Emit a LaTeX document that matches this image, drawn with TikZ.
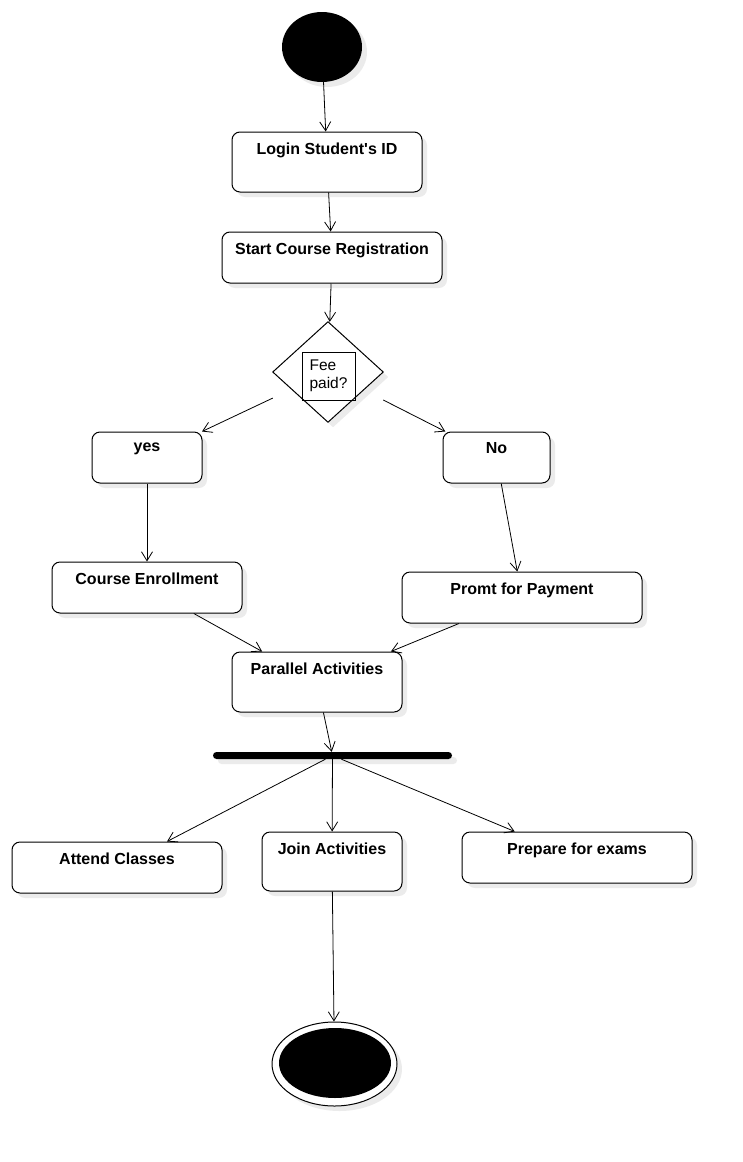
\documentclass[tikz,border=0pt]{standalone}
\usepackage{fontspec}
\setmainfont{Liberation Sans}
\usetikzlibrary{shapes.geometric,arrows.meta,positioning,shadows}

\begin{document}
\begin{tikzpicture}[x=1pt, y=-1pt,
    soft shadow/.style={drop shadow={shadow xshift=5pt, shadow yshift=-5pt, fill=black!8, opacity=1}},
    act box/.style={draw, line width=1pt, rounded corners=8pt, fill=white, soft shadow, minimum height=51pt},
    act text/.style={font=\bfseries\fontsize{16}{19}\selectfont, anchor=north, inner sep=0pt, yshift=-11pt},
    flow/.style={-{Straight Barb[length=9pt, width=11pt]}, line width=0.8pt}]
    \useasboundingbox (0,0) rectangle (743,1162);
    \node[ellipse, fill=black, minimum width=80pt, minimum height=70pt, inner sep=0pt, soft shadow] (start) at (322,47) {};
    \node[act box, minimum width=190pt, minimum height=60pt, label={[act text]north:Login Student{\textquotesingle}s ID}] (login) at (327,162) {};
    \node[act box, minimum width=220pt, label={[act text]north:Start Course Registration}] (reg) at (332,257.5) {};

    \node[minimum width=110pt, minimum height=100pt, inner sep=0pt] (fee) at (328,372) {};
    \draw[line width=1pt, fill=white, soft shadow] (fee.north) -- (fee.east) -- (fee.south) -- (fee.west) -- cycle;
    \node[draw, line width=1pt, minimum width=53pt, minimum height=48pt, inner sep=2pt, align=left, font=\fontsize{15.5}{18}\selectfont] (feetext) at (328.5,376) {Fee\\paid?};

    \node[act box, minimum width=110pt, label={[act text]north:yes}] (yes) at (147,457.5) {};
    \node[act box, minimum width=107pt, label={[act text]north:No}] (no) at (496.5,457.5) {};
    \node[act box, minimum width=190pt, label={[act text]north:Course Enrollment}] (enrol) at (147,587.5) {};
    \node[act box, minimum width=240pt, label={[act text]north:Promt for Payment}] (pay) at (522,597.5) {};
    \node[act box, minimum width=170pt, minimum height=60pt, label={[act text]north:Parallel Activities}] (par) at (317,682) {};

    \node[fill=black, rounded corners=3.5pt, minimum width=239pt, minimum height=7pt, inner sep=0pt, soft shadow] (fork) at (332.5,755.5) {};

    \node[act box, minimum width=210pt, label={[act text]north:Attend Classes}] (classes) at (117,867.5) {};
    \node[act box, minimum width=140pt, minimum height=59pt, label={[act text]north:Join Activities}] (join) at (332,861.5) {};
    \node[act box, minimum width=230pt, label={[act text]north:Prepare for exams}] (exams) at (577,857.5) {};

    \node[ellipse, draw, line width=1pt, fill=white, minimum width=125pt, minimum height=84pt, inner sep=0pt, soft shadow] (end) at (334.5,1064) {};
    \node[ellipse, fill=black, minimum width=112pt, minimum height=70pt, inner sep=0pt] (endcore) at (335,1063) {};

    \draw[flow] (start) -- (login);
    \draw[flow] (login) -- (reg);
    \draw[flow] (reg) -- (fee);
    \draw[flow] (fee) -- (yes);
    \draw[flow] (fee) -- (no);
    \draw[flow] (yes) -- (enrol);
    \draw[flow] (no) -- (pay);
    \draw[flow] (enrol) -- (par);
    \draw[flow] (pay) -- (par);
    \draw[flow] (par) -- (fork);
    \draw[flow] (fork) -- (classes);
    \draw[flow] (fork) -- (join);
    \draw[flow] (fork) -- (exams);
    \draw[flow] (join) -- (end);
\end{tikzpicture}
\end{document}
